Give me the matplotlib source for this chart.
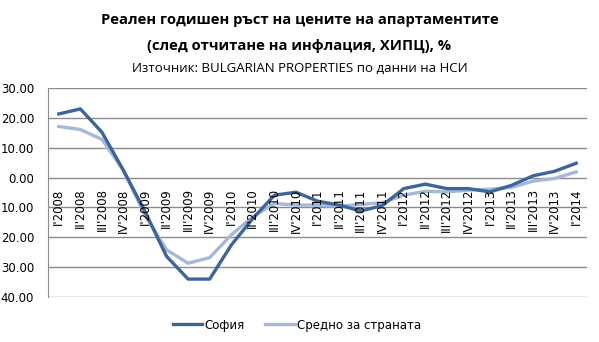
import matplotlib
matplotlib.use("Agg")
import matplotlib.pyplot as plt
from matplotlib.ticker import FuncFormatter

quarters = ["I'2008", "II'2008", "III'2008", "IV'2008",
            "I'2009", "II'2009", "III'2009", "IV'2009",
            "I'2010", "II'2010", "III'2010", "IV'2010",
            "I'2011", "II'2011", "III'2011", "IV'2011",
            "I'2012", "II'2012", "III'2012", "IV'2012",
            "I'2013", "II'2013", "III'2013", "IV'2013",
            "I'2014"]
sofia = [21.3, 23.0, 15.2, 2.4, -11.4, -26.4, -34.0, -34.0, -22.6, -13.7, -5.9, -4.9,
         -7.9, -9.2, -11.2, -9.4, -3.7, -2.2, -3.7, -3.7, -4.8, -2.6, 0.6, 2.1, 4.8]
country = [17.1, 16.1, 12.8, 2.4, -12.6, -24.2, -28.7, -26.8, -19.2, -13.1, -8.7, -9.2,
           -9.2, -9.6, -9.0, -8.4, -5.9, -4.6, -4.8, -4.2, -3.9, -3.3, -1.2, -0.3, 1.9]
series_names = ["София", "Средно за страната"]
title_lines = ["Реален годишен ръст на цените на апартаментите",
               "(след отчитане на инфлация, ХИПЦ), %"]
subtitle = "Източник: BULGARIAN PROPERTIES по данни на НСИ"

fig = plt.figure(figsize=(5.99, 3.42), dpi=100)
ax = fig.add_axes([48/599, 1-297/342, (587-48)/599, (297-88)/342])

x = list(range(len(quarters)))
ax.plot(x, sofia, color="#3C6699", lw=2.4, label=series_names[0], zorder=3)
ax.plot(x, country, color="#A5B8DA", lw=2.4, label=series_names[1], zorder=2)

ax.set_xlim(-0.5, len(quarters) - 0.5)
ax.set_ylim(-40, 30)
ax.set_yticks(range(-40, 31, 10))
ax.yaxis.set_major_formatter(FuncFormatter(lambda v, p: f"{abs(v):.2f}"))
ax.tick_params(axis="y", length=0, pad=10, labelsize=8.5)
ax.set_xticks([])
ax.grid(axis="y", color="#8C8C8C", lw=1)
ax.set_axisbelow(True)
for s in ["top", "right", "bottom"]:
    ax.spines[s].set_visible(False)
ax.spines["left"].set_color("#8C8C8C")

for i, q in enumerate(quarters):
    ax.text(i, -3.6, q, rotation=90, ha="center", va="top", fontsize=8.5, color="#000000")

fig.text(0.5, 1-20/342, title_lines[0], ha="center", va="center", fontsize=10.6,
         fontweight="bold", family="Open Sans")
fig.text(0.5, 1-46/342, title_lines[1], ha="center", va="center", fontsize=10.6,
         fontweight="bold", family="Open Sans")
fig.text(0.5, 1-68/342, subtitle, ha="center", va="center", fontsize=9.5, family="Open Sans")

fig.legend(loc="center", bbox_to_anchor=(297/599, 1-325/342), ncol=2, frameon=False,
           fontsize=8.5, handlelength=2.5, handletextpad=0.2, columnspacing=1.7)

fig.savefig("out.png", dpi=100)
